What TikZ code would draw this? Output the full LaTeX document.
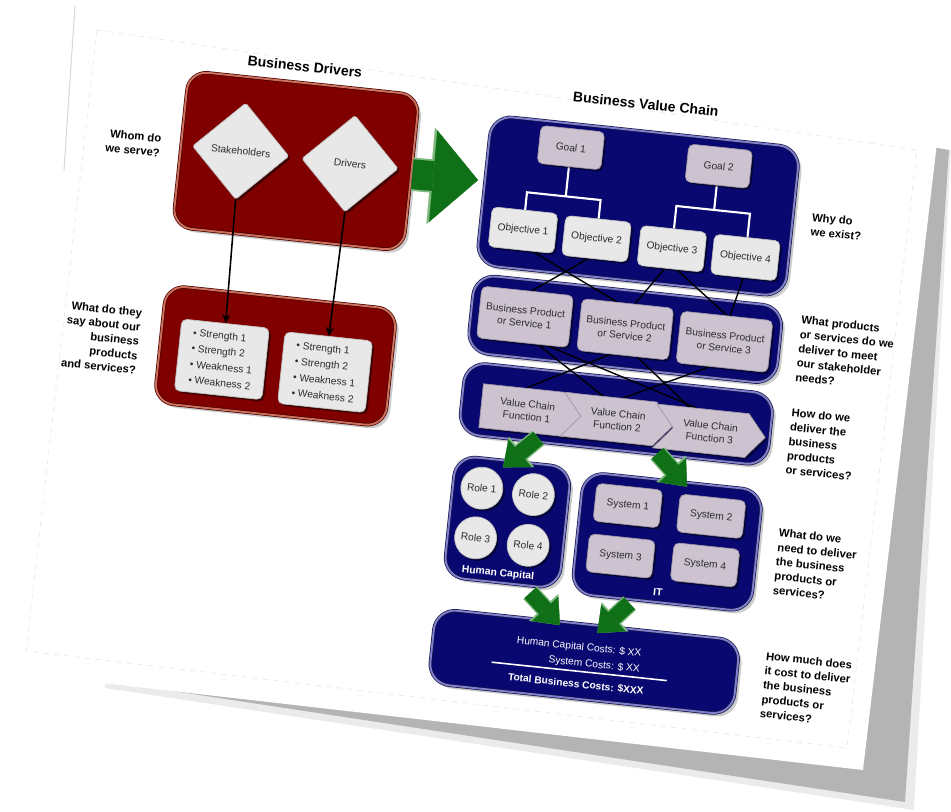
\documentclass[tikz,border=0pt]{standalone}
\usepackage{fontspec}
\setmainfont{Liberation Sans}
\usetikzlibrary{positioning,calc,arrows.meta,shapes.geometric,shapes.symbols,shadows}
\pgfdeclarelayer{back}
\pgfdeclarelayer{wires}
\pgfsetlayers{back,wires,main}
\definecolor{boxred}{RGB}{128,0,0}
\definecolor{rimred}{RGB}{205,112,92}
\definecolor{edgered}{RGB}{70,0,0}
\definecolor{boxblue}{RGB}{8,8,112}
\definecolor{rimblue}{RGB}{128,128,205}
\definecolor{edgeblue}{RGB}{20,20,70}
\definecolor{cardgray}{RGB}{232,232,232}
\definecolor{cardline}{RGB}{190,190,190}
\definecolor{cardmauve}{RGB}{204,194,208}
\definecolor{mauveline}{RGB}{160,150,166}
\definecolor{inktext}{RGB}{45,45,45}
\definecolor{arrgreen}{RGB}{16,112,24}
\definecolor{arrrim}{RGB}{125,185,125}
\definecolor{sheetshade}{RGB}{180,180,180}
\tikzset{
  redbox/.style   = {draw=edgered, double=rimred, double distance=1.1pt, fill=boxred,
                     rounded corners=11pt,
                     drop shadow={shadow xshift=2pt, shadow yshift=-2pt, opacity=.4}},
  bluebox/.style  = {draw=edgeblue, double=rimblue, double distance=1.1pt, fill=boxblue,
                     rounded corners=12pt,
                     drop shadow={shadow xshift=2pt, shadow yshift=-2pt, opacity=.4}},
  ttl/.style      = {font=\fontsize{8}{9.6}\selectfont\bfseries, inner sep=1pt},
  qtxt/.style     = {font=\fontsize{6.4}{8.2}\selectfont\bfseries, inner sep=0pt},
  card/.style     = {draw=cardline, fill=cardgray, rounded corners=3pt, text=inktext,
                     font=\fontsize{5.8}{7.2}\selectfont, align=center, inner sep=1pt,
                     drop shadow={shadow xshift=1.2pt, shadow yshift=-1.2pt,
                                  opacity=.5, fill=black}},
  mcard/.style    = {card, fill=cardmauve, draw=mauveline},
  dia/.style      = {card, diamond, rounded corners=1pt, minimum width=1.94cm,
                     minimum height=1.94cm, inner sep=0pt},
  goalcard/.style = {mcard, minimum width=1.28cm, minimum height=0.76cm},
  objcard/.style  = {card, minimum width=1.32cm, minimum height=0.8cm},
  prodcard/.style = {mcard, minimum width=1.84cm, minimum height=1.04cm},
  syscard/.style  = {mcard, minimum width=1.32cm, minimum height=0.76cm},
  swcard/.style   = {card, align=left, font=\fontsize{5.8}{9}\selectfont,
                     minimum width=1.76cm, minimum height=1.44cm},
  rolecirc/.style = {card, circle, minimum size=0.84cm, inner sep=0pt},
  vcstep/.style   = {mcard, sharp corners, signal, signal to=east,
                     signal pointer angle=100, minimum width=2.22cm, minimum height=0.88cm},
  vcnext/.style   = {vcstep, signal from=west},
  boxlbl/.style   = {text=white, font=\fontsize{5.9}{7}\selectfont\bfseries, inner sep=1pt},
  costtxt/.style  = {text=white, font=\fontsize{5.8}{7}\selectfont, inner sep=1pt},
  wline/.style    = {draw=white, line width=1.2pt},
  blink/.style    = {draw=black, line width=0.8pt},
  darr/.style     = {draw=black, line width=0.9pt, -{Stealth[length=5pt, width=4.5pt]}},
  garr/.style     = {draw=arrgreen, line width=9pt,
                     -{Triangle[width=0.72cm, length=0.44cm, line width=0.1pt, fill=arrgreen]}},
  garrim/.style   = {draw=arrrim, line width=10.6pt,
                     -{Triangle[width=0.79cm, length=0.48cm, line width=0.1pt, fill=arrrim]}},
  bigarr/.style   = {draw=arrgreen, line width=17pt,
                     -{Triangle[width=1.84cm, length=0.9cm, line width=0.1pt, fill=arrgreen]}},
  bigrim/.style   = {draw=arrrim, line width=19pt,
                     -{Triangle[width=1.93cm, length=0.95cm, line width=0.1pt, fill=arrrim]}},
}

\begin{document}
\begin{tikzpicture}[x=0.02cm, y=-0.02cm]
  \useasboundingbox (0,0) rectangle (951,812);
  % the tilted sheet and its shadow
  \begin{pgfonlayer}{back}
    \fill[black!8] (84,12) -- (951,150) -- (914,810) -- (105,688) -- cycle;
    \fill[sheetshade] (80,8) -- (949,150) -- (905,802) -- (120,683) -- cycle;
    \fill[white] (75,6) -- (937,143) -- (863,770) -- (6,672) -- cycle;
    \draw[black!15, line width=0.6pt] (75,6) -- (64,170);
    \draw[black!10, dashed, line width=0.3pt] (97,30) -- (917,150) -- (847,748) -- (26,651) -- cycle;
  \end{pgfonlayer}

  \begin{scope}[shift={(475,400)}, rotate=-6, transform shape]
    % containers
    \begin{pgfonlayer}{back}
      \node[redbox, minimum width=4.64cm, minimum height=3.14cm] (drvbox) at (-203,-219) {};
      \node[redbox, minimum width=4.64cm, minimum height=2.36cm] (vocbox) at (-203,-23) {};
      \node[bluebox, minimum width=6.2cm, minimum height=3cm] (goalbox) at (142,-210) {};
      \node[bluebox, minimum width=6.2cm, minimum height=1.56cm] (prodbox) at (142,-86) {};
      \node[bluebox, minimum width=6.2cm, minimum height=1.44cm] (chainbox) at (142,-1) {};
      \node[bluebox, minimum width=2.32cm, minimum height=2.44cm] (hcbox) at (45,118) {};
      \node[bluebox, minimum width=3.6cm, minimum height=2.44cm] (itbox) at (206,121) {};
      \node[bluebox, minimum width=6.12cm, minimum height=1.5cm] (costbox) at (136,249) {};
    \end{pgfonlayer}

    % titles and questions
    \node[ttl] (drvttl) at (-204,-314) {Business Drivers};
    \node[ttl] (chainttl) at (139,-312) {Business Value Chain};
    \node[qtxt, align=right, anchor=east] (qserve) at (-339,-220) {Whom do\\we serve?};
    \node[qtxt, align=right, anchor=east] (qsay) at (-340,-23)
      {What do they\\say about our\\business\\products\\and services?};
    \node[qtxt, align=left, anchor=west] (qwhy) at (316,-210) {Why do\\we exist?};
    \node[qtxt, align=left, anchor=west] (qwhat) at (316,-85)
      {What products\\or services do we\\deliver to meet\\our stakeholder\\needs?};
    \node[qtxt, align=left, anchor=west] (qhow) at (316,8)
      {How do we\\deliver the\\business\\products\\or services?};
    \node[qtxt, align=left, anchor=west] (qneed) at (316,129)
      {What do we\\need to deliver\\the business\\products or\\services?};
    \node[qtxt, align=left, anchor=west] (qcost) at (316,253)
      {How much does\\it cost to deliver\\the business\\products or\\services?};

    % business drivers
    \node[dia] (stake) at (-259,-223) {Stakeholders};
    \node[dia] (drv) at (-149,-222) {Drivers};
    \node[swcard] (sw1) at (-256,-14) {• Strength 1\\• Strength 2\\• Weakness 1\\• Weakness 2};
    \node[swcard] (sw2) at (-152,-12) {• Strength 1\\• Strength 2\\• Weakness 1\\• Weakness 2};

    % goals and objectives
    \node[goalcard] (goal1) at (69,-261) {Goal 1};
    \node[goalcard] (goal2) at (218,-258) {Goal 2};
    \node[objcard] (obj1) at (30,-174) {Objective 1};
    \node[objcard] (obj2) at (104,-173) {Objective 2};
    \node[objcard] (obj3) at (180,-171) {Objective 3};
    \node[objcard] (obj4) at (254,-170) {Objective 4};

    % products, value chain
    \node[prodcard] (bp1) at (41,-88) {Business Product\\or Service 1};
    \node[prodcard] (bp2) at (142,-86) {Business Product\\or Service 2};
    \node[prodcard] (bp3) at (242,-84) {Business Product\\or Service 3};
    \node[vcstep] (vc1) at (53,5) {Value Chain\\Function 1};
    \node[vcnext] (vc2) at (144,5) {Value Chain\\Function 2};
    \node[vcnext] (vc3) at (237,7) {Value Chain\\Function 3};

    % human capital and IT
    \node[rolecirc] (role1) at (16,87) {Role 1};
    \node[rolecirc] (role2) at (68,88) {Role 2};
    \node[rolecirc] (role3) at (15,137) {Role 3};
    \node[rolecirc] (role4) at (68,139) {Role 4};
    \node[boxlbl] (hclbl) at (41,170) {Human Capital};
    \node[syscard] (sys1) at (163,89) {System 1};
    \node[syscard] (sys2) at (247,91) {System 2};
    \node[syscard] (sys3) at (161,140) {System 3};
    \node[syscard] (sys4) at (246,140) {System 4};
    \node[boxlbl] (itlbl) at (202,172) {IT};

    % costs
    \node[costtxt, anchor=east] (hccost) at (194,235) {Human Capital Costs: \$ XX};
    \node[costtxt, anchor=east] (syscost) at (194,251) {System Costs: \$ XX};
    \node[costtxt, font=\fontsize{5.8}{7}\selectfont\bfseries] (totcost) at (130,272)
      {Total Business Costs: \$XXX};
    \coordinate (rulel) at (44,259);
    \coordinate (ruler) at (220,259);
    \draw[white, line width=0.9pt] (rulel) -- (ruler);

    % goal trees
    \coordinate (g1l) at (30,-212);
    \coordinate (g1m) at (69,-212);
    \coordinate (g1r) at (104,-212);
    \coordinate (g2l) at (180,-214);
    \coordinate (g2m) at (218,-214);
    \coordinate (g2r) at (254,-214);
    \begin{pgfonlayer}{wires}
      \draw[wline] (goal1) -- (g1m);
      \draw[wline] (obj1) -- (g1l) -- (g1r) -- (obj2);
      \draw[wline] (goal2) -- (g2m);
      \draw[wline] (obj3) -- (g2l) -- (g2r) -- (obj4);
      % objectives to products
      \draw[blink] ([xshift=0.24cm]obj1.south) -- ([xshift=-0.22cm]bp2.north);
      \draw[blink] ([xshift=-0.12cm]obj2.south) -- ([xshift=0.08cm]bp1.north);
      \draw[blink] ([xshift=-0.1cm]obj3.south) -- ([xshift=0.14cm]bp2.north);
      \draw[blink] ([xshift=0.14cm]obj3.south) -- (bp3.north);
      \draw[blink] (obj4.south) -- ([xshift=0.06cm]bp3.north);
      % products to value chain
      \draw[blink] ([xshift=0.32cm]bp1.south) -- ([xshift=-0.34cm]vc2.north);
      \draw[blink] ([xshift=0.5cm]bp1.south) -- ([xshift=-0.32cm]vc3.north);
      \draw[blink] ([xshift=-0.24cm]bp2.south) -- ([xshift=-0.06cm]vc1.north);
      \draw[blink] ([xshift=0.3cm]bp2.south) -- ([xshift=-0.46cm]vc3.north);
      \draw[blink] ([xshift=-0.24cm]bp3.south) -- ([xshift=0.06cm]vc2.north);
      % drivers to voice
      \draw[darr] (stake.south) -- (sw1.north);
      \draw[darr] (drv.south) -- (sw2.north);
    \end{pgfonlayer}

    % green block arrows
    \coordinate (bigs) at (-86,-218);
    \coordinate (bige) at (-20,-219);
    \draw[bigrim] (bigs) -- (bige);
    \draw[bigarr] (bigs) -- (bige);
    \coordinate (gs1) at (67,31);   \coordinate (ge1) at (35,64);
    \coordinate (gs2) at (187,34);  \coordinate (ge2) at (220,64);
    \coordinate (gs3) at (75,186);  \coordinate (ge3) at (108,215);
    \coordinate (gs4) at (175,186); \coordinate (ge4) at (146,219);
    \foreach \k in {1,...,4} {
      \draw[garrim] (gs\k) -- (ge\k);
      \draw[garr] (gs\k) -- (ge\k);
    }
  \end{scope}
\end{tikzpicture}
\end{document}
